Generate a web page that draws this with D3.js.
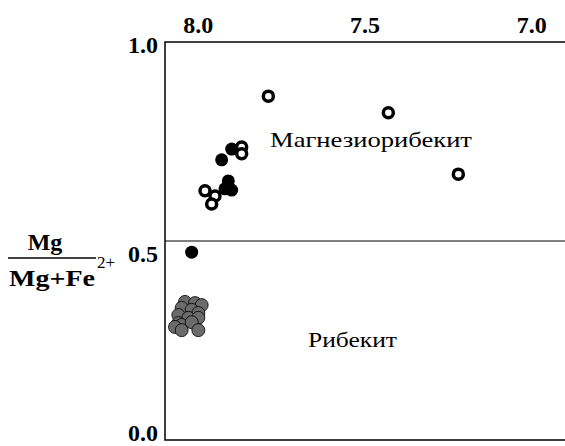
<!DOCTYPE html>
<html>
<head>
<meta charset="utf-8">
<script src="https://cdn.jsdelivr.net/npm/d3@7/dist/d3.min.js"></script>
<style>
  body { margin: 0; background: #fff; }
  text { font-family: "Liberation Serif", "Times New Roman", serif; }
</style>
</head>
<body>
<div id="chart"></div>
<script>
// Si (apfu) vs Mg/(Mg+Fe2+)
var openSi = [7.79, 7.43, 7.22, 7.87, 7.87, 7.98, 7.95, 7.96];
var openMg = [0.864, 0.822, 0.668, 0.736, 0.719, 0.626, 0.613, 0.593];

var blackSi = [7.90, 7.93, 7.91, 7.92, 7.90, 8.02];
var blackMg = [0.731, 0.704, 0.651, 0.631, 0.628, 0.472];

var graySi = [8.04, 8.01, 7.99, 8.05, 8.02, 8.00, 8.06, 8.03, 8.00, 8.06, 8.05, 8.02, 8.00, 8.07, 8.05];
var grayMg = [0.347, 0.344, 0.339, 0.332, 0.327, 0.319, 0.314, 0.307, 0.307, 0.294, 0.289, 0.296, 0.276, 0.284, 0.276];

var xTicks = [8.0, 7.5, 7.0];
var yTicks = [0.0, 0.5, 1.0];
var fieldNames = ["Магнезиорибекит", "Рибекит"];

var width = 565,
    height = 446,
    padL = 165, padR = 565,
    padT = 42, padB = 440;

var svg = d3.select("#chart")
    .append("svg")
    .attr("width", width)
    .attr("height", height);

var x = d3.scaleLinear().domain([8.1, 6.9]).range([padL, padR]);
var y = d3.scaleLinear().domain([0, 1]).range([padB, padT]);

// frame: top, left, bottom (no right side)
svg.append("path")
    .attr("d", "M" + padR + "," + padT + "H" + padL + "V" + padB + "H" + padR)
    .attr("fill", "none")
    .attr("stroke", "#000")
    .attr("stroke-width", 1.5);

// boundary at 0.5
svg.append("line")
    .attr("x1", padL).attr("x2", padR)
    .attr("y1", y(0.5)).attr("y2", y(0.5))
    .attr("stroke", "#000")
    .attr("stroke-width", 1.2);

svg.selectAll(".xt")
    .data(xTicks).enter()
    .append("text")
    .attr("x", function(d) { return x(d); })
    .attr("y", 33)
    .attr("text-anchor", "middle")
    .attr("font-size", 24)
    .attr("font-weight", "bold")
    .text(function(d) { return d.toFixed(1); });

// labels sit a bit off their ticks, as in the original
svg.selectAll(".yt")
    .data(yTicks).enter()
    .append("text")
    .attr("x", 158)
    .attr("y", function(d) {
        if (d == 0.5) return y(d) + 21;
        if (d == 0) return y(d) + 1;
        return y(d) + 11;
    })
    .attr("text-anchor", "end")
    .attr("font-size", 24)
    .attr("font-weight", "bold")
    .text(function(d) { return d.toFixed(1); });

// y label as a fraction
var lab = svg.append("g");
lab.append("text")
    .attr("x", 45).attr("y", 250)
    .attr("text-anchor", "middle")
    .attr("font-size", 24)
    .attr("font-weight", "bold")
    .text("Mg");
lab.append("line")
    .attr("x1", 8).attr("x2", 96)
    .attr("y1", 258).attr("y2", 258)
    .attr("stroke", "#000")
    .attr("stroke-width", 1.5);
lab.append("text")
    .attr("x", 9).attr("y", 286)
    .attr("font-size", 24)
    .attr("font-weight", "bold")
    .attr("textLength", 86)
    .attr("lengthAdjust", "spacingAndGlyphs")
    .text("Mg+Fe");
lab.append("text")
    .attr("x", 97).attr("y", 268)
    .attr("font-size", 17)
    .text("2+");

svg.append("text")
    .attr("x", 270).attr("y", 147)
    .attr("font-size", 21)
    .attr("textLength", 202)
    .attr("lengthAdjust", "spacingAndGlyphs")
    .text(fieldNames[0]);
svg.append("text")
    .attr("x", 308).attr("y", 347)
    .attr("font-size", 21)
    .attr("textLength", 89)
    .attr("lengthAdjust", "spacingAndGlyphs")
    .text(fieldNames[1]);

// gray points
svg.selectAll(".gray")
    .data(d3.range(graySi.length)).enter()
    .append("circle")
    .attr("cx", function(i) { return x(graySi[i]); })
    .attr("cy", function(i) { return y(grayMg[i]); })
    .attr("r", 6.5)
    .attr("fill", "#6b6b6b")
    .attr("stroke", "#000")
    .attr("stroke-width", 0.8);

svg.selectAll(".black")
    .data(d3.range(blackSi.length)).enter()
    .append("circle")
    .attr("cx", function(i) { return x(blackSi[i]); })
    .attr("cy", function(i) { return y(blackMg[i]); })
    .attr("r", 6.5)
    .attr("fill", "#000");

svg.selectAll(".open")
    .data(d3.range(openSi.length)).enter()
    .append("circle")
    .attr("cx", function(i) { return x(openSi[i]); })
    .attr("cy", function(i) { return y(openMg[i]); })
    .attr("r", 5)
    .attr("fill", "#fff")
    .attr("stroke", "#000")
    .attr("stroke-width", 3.5);
</script>
</body>
</html>
